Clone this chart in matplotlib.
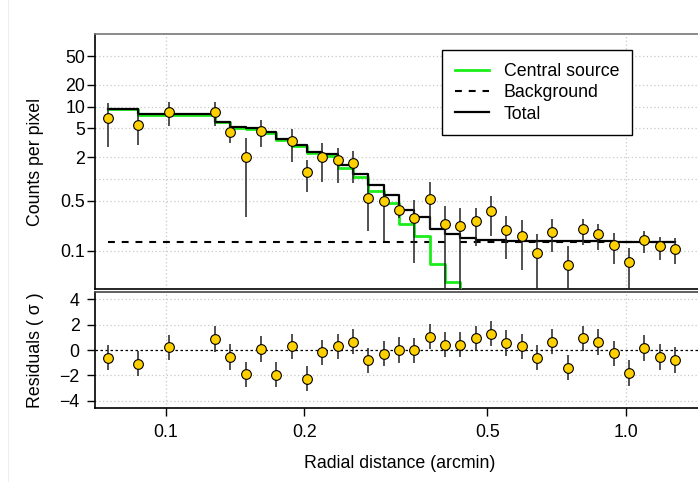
import matplotlib
matplotlib.use('Agg')
import matplotlib.pyplot as plt
import numpy as np
from matplotlib.lines import Line2D

FS = 12.8
plt.rcParams['font.family'] = ['Liberation Sans', 'DejaVu Sans']
plt.rcParams['font.size'] = FS

# radial bins (arcmin) where model / residuals are given
r_model = [0.0748, 0.0872, 0.1017, 0.1280, 0.1382, 0.1492, 0.1611, 0.1740,
           0.1879, 0.2029, 0.2190, 0.2365, 0.2554, 0.2757, 0.2978, 0.3215,
           0.3471, 0.3749, 0.4048, 0.4370, 0.4720, 0.5096, 0.5501, 0.5941,
           0.6414, 0.6925, 0.7479, 0.8075, 0.8718, 0.9417, 1.0167, 1.0975,
           1.1855, 1.2799]
total = [9.3, 7.9, 7.9, 6.2, 5.24, 5.02, 4.51, 3.57,
         2.95, 2.39, 2.20, 1.56, 1.18, 0.81, 0.60, 0.37,
         0.295, 0.20, 0.172, 0.151, 0.143, 0.140, 0.138, 0.137,
         0.136, 0.136, 0.136, 0.136, 0.136, 0.135, 0.135, 0.135,
         0.135, 0.135]
source = [9.17, 7.77, 7.77, 6.07, 5.11, 4.89, 4.38, 3.44,
          2.82, 2.26, 2.07, 1.43, 1.045, 0.675, 0.465, 0.235,
          0.160, 0.065, 0.037, 0.016, 0.008, 0.005, 0.003, 0.002,
          0.001, 0.001, 0.001, 0.001, 0.001, 0.001, 0.001, 0.001,
          0.001, 0.001]
background = 0.135

residual = [-0.61, -1.08, 0.21, 0.87, -0.55, -1.91, 0.08, -1.94,
            0.28, -2.26, -0.18, 0.29, 0.66, -0.81, -0.29, 0.0,
            -0.03, 1.05, 0.42, 0.42, 0.92, 1.28, 0.55, 0.29,
            -0.61, 0.66, -1.39, 0.92, 0.63, -0.26, -1.81, 0.16,
            -0.55, -0.79]

# observed profile (one bin has no point in the upper panel)
r_obs = [0.0748, 0.0872, 0.1017, 0.1280, 0.1382, 0.1492, 0.1611,
         0.1879, 0.2029, 0.2190, 0.2365, 0.2554, 0.2757, 0.2978, 0.3215,
         0.3471, 0.3749, 0.4048, 0.4370, 0.4720, 0.5096, 0.5501, 0.5941,
         0.6414, 0.6925, 0.7479, 0.8075, 0.8718, 0.9417, 1.0167, 1.0975,
         1.1855, 1.2799]
counts = [7.0, 5.5, 8.45, 8.45, 4.5, 2.0, 4.6,
          3.3, 1.24, 2.0, 1.8, 1.65, 0.55, 0.50, 0.37,
          0.29, 0.53, 0.24, 0.22, 0.26, 0.36, 0.193, 0.161,
          0.093, 0.186, 0.0645, 0.20, 0.171, 0.121, 0.071, 0.141,
          0.116, 0.108]
counts_lo = [2.8, 2.95, 5.4, 5.4, 3.1, 0.30, 2.8,
             1.7, 0.65, 0.90, 0.87, 0.88, 0.19, 0.137, 0.29,
             0.069, 0.20, 0.02, 0.02, 0.116, 0.163, 0.078, 0.055,
             0.02, 0.097, 0.02, 0.122, 0.104, 0.067, 0.02, 0.094,
             0.074, 0.067]
counts_hi = [11.1, 8.1, 11.5, 11.5, 5.9, 3.7, 6.5,
             4.9, 1.83, 3.1, 2.7, 2.46, 0.83, 0.62, 0.45,
             0.51, 0.89, 0.42, 0.40, 0.40, 0.57, 0.31, 0.265,
             0.172, 0.277, 0.118, 0.28, 0.236, 0.179, 0.110, 0.188,
             0.158, 0.153]

counts = np.array(counts)
yerr = [counts - np.array(counts_lo), np.array(counts_hi) - counts]

W, H = 698, 482
fig = plt.figure(figsize=(W / 100, H / 100), dpi=100)

def px_axes(x0, y0, x1, y1):
    return fig.add_axes([x0 / W, 1 - y1 / H, (x1 - x0) / W, (y1 - y0) / H])

ax1 = px_axes(95, 34, 698, 289)
ax2 = px_axes(95, 292, 698, 407.7)

xlim = (0.0702, 1.436)
grid_kw = dict(color='#c8c8c8', linestyle=(0, (1, 2)), linewidth=0.9, zorder=0)

# ---- upper panel
for v in [0.1, 0.5, 1, 2, 5, 10, 20, 50]:
    ax1.axhline(v, **grid_kw)
for v in [0.1, 1.0]:
    ax1.axvline(v, **grid_kw)

ax1.plot(r_model[:19], [background] * 19, color='black', lw=1.5,
         linestyle=(0, (3.3, 3.3)), zorder=2)
ax1.plot(r_model[19:], [background] * len(r_model[19:]), color='black', lw=1.5,
         linestyle=(0, (3.3, 3.3)), zorder=2)
ax1.plot(r_model, source, drawstyle='steps-post', color='#1aee1a', lw=2.0, zorder=3)
ax1.plot(r_model, total, drawstyle='steps-post', color='black', lw=1.6, zorder=4)
ax1.errorbar(r_obs, counts, yerr=yerr, fmt='o', ms=7.0, mfc='#ffd000',
             mec='black', mew=0.8, ecolor='#222222', elinewidth=1.1,
             capsize=0, zorder=5)

ax1.set_xscale('log')
ax1.set_yscale('log')
ax1.set_xlim(*xlim)
ax1.set_ylim(0.0297, 101.8)
ax1.set_yticks([0.1, 0.5, 2, 5, 10, 20, 50])
ax1.set_yticklabels(['0.1', '0.5', '2', '5', '10', '20', '50'])
ax1.yaxis.set_minor_locator(matplotlib.ticker.NullLocator())
ax1.xaxis.set_major_locator(matplotlib.ticker.NullLocator())
ax1.xaxis.set_minor_locator(matplotlib.ticker.NullLocator())
ax1.tick_params(axis='y', length=6, width=1.0, pad=1.0, labelsize=FS)

handles = [Line2D([], [], color='#1aee1a', lw=2.0),
           Line2D([], [], color='black', lw=1.5, linestyle=(0, (3.3, 3.3))),
           Line2D([], [], color='black', lw=1.6)]
leg = ax1.legend(handles, ['Central source', 'Background', 'Total'],
                 loc='upper left', bbox_to_anchor=(442.3 / W, 1 - 50.3 / H),
                 bbox_transform=fig.transFigure, borderaxespad=0,
                 fancybox=False, framealpha=1, edgecolor='black',
                 handlelength=1.9, handletextpad=0.85, borderpad=0.7,
                 labelspacing=0.25, fontsize=FS)
leg.get_frame().set_linewidth(1.0)

# ---- residual panel
for v in [-4, -2, 2, 4]:
    ax2.axhline(v, **grid_kw)
for v in [0.1, 1.0]:
    ax2.axvline(v, **grid_kw)
ax2.axhline(0, color='black', linestyle=(0, (2, 2)), lw=0.9, zorder=1)
ax2.errorbar(r_model, residual, yerr=1.0, fmt='o', ms=7.0, mfc='#ffd000',
             mec='black', mew=0.8, ecolor='#222222', elinewidth=1.1,
             capsize=0, zorder=5)
ax2.set_xscale('log')
ax2.set_xlim(*xlim)
ax2.set_ylim(-4.54, 4.57)
ax2.set_yticks([-4, -2, 0, 2, 4])
ax2.set_xticks([0.1, 0.2, 0.5, 1.0])
ax2.set_xticklabels(['0.1', '0.2', '0.5', '1.0'])
ax2.xaxis.set_minor_locator(matplotlib.ticker.NullLocator())
ax2.tick_params(axis='both', length=6, width=1.0, labelsize=FS)
ax2.tick_params(axis='y', pad=5)
ax2.tick_params(axis='x', pad=6)

for ax in (ax1, ax2):
    ax.spines['right'].set_visible(False)
    for s in ('left', 'bottom', 'top'):
        ax.spines[s].set_linewidth(1.2)
ax1.spines['top'].set_color('#777777')
ax2.spines['top'].set_color('#444444')

fig.text(35 / W, 1 - 161.5 / H, 'Counts per pixel', rotation=90,
         ha='center', va='center', fontsize=FS)
fig.text(35 / W, 1 - 350 / H, 'Residuals ( σ )', rotation=90,
         ha='center', va='center', fontsize=FS)
fig.text(400 / W, 1 - 464 / H, 'Radial distance (arcmin)',
         ha='center', va='center', fontsize=FS)

fig.add_artist(Line2D([8 / W, 8 / W], [0, 1], color='#eeeeee', lw=0.8))

fig.savefig('out.png', dpi=100)
